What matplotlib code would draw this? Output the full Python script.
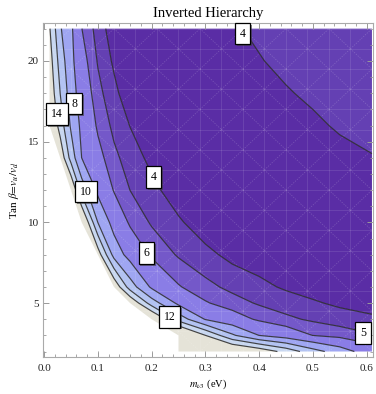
import matplotlib
matplotlib.use('Agg')
import matplotlib.pyplot as plt
import numpy as np
from matplotlib import patheffects
from matplotlib.collections import LineCollection

plt.rcParams['font.family'] = ['Liberation Serif', 'DejaVu Serif']
plt.rcParams['mathtext.fontset'] = 'stix'

nan = np.nan

# grid
m_nu3 = [0.01, 0.03, 0.05, 0.07, 0.1, 0.13, 0.16, 0.2, 0.25, 0.3, 0.35, 0.4, 0.45, 0.5, 0.55, 0.61]
tan_beta = [2, 3, 4, 5, 6, 8, 10, 12, 14, 16, 18, 20, 22]

# one row per tan_beta value (bottom to top), nan = no solution
value = [
    [nan, nan, nan, nan, nan, nan, nan, nan, 19.0, 18.0, 17.0, 15.5, 13.3, 10.8, 9.0, 6.8],
    [nan, nan, nan, nan, nan, nan, nan, nan, 18.0, 14.02, 10.3, 7.98, 7.0, 5.98, 5.55, 5.1],
    [nan, nan, nan, nan, nan, nan, nan, 17.0, 11.2, 7.88, 6.71, 5.78, 5.22, 4.83, 4.56, 4.22],
    [nan, nan, nan, nan, nan, nan, 16.0, 11.0, 7.57, 6.12, 5.43, 4.88, 4.51, 4.15, 3.78, 3.5],
    [nan, nan, nan, nan, nan, 15.7, 11.0, 7.68, 6.1, 5.3, 4.73, 4.29, 3.85, 3.5, 3.4, 3.35],
    [nan, nan, nan, nan, 15.1, 9.25, 7.2, 5.8, 4.88, 4.29, 3.7, 3.4, 3.3, 3.3, 3.3, 3.3],
    [nan, nan, nan, 16.75, 9.98, 7.22, 5.8, 4.88, 4.15, 3.41, 3.3, 3.3, 3.3, 3.3, 3.3, 3.35],
    [nan, nan, 16.3, 11.17, 7.54, 5.91, 4.99, 4.3, 3.42, 3.3, 3.3, 3.3, 3.3, 3.3, 3.4, 3.5],
    [nan, 15.6, 11.2, 7.98, 6.46, 5.25, 4.53, 3.71, 3.4, 3.3, 3.3, 3.3, 3.4, 3.55, 3.75, 3.97],
    [16.7, 13.1, 9.71, 7.52, 5.8, 4.74, 3.97, 3.4, 3.3, 3.3, 3.3, 3.35, 3.5, 3.85, 4.1, 4.2],
    [15.6, 11.98, 8.93, 7.04, 5.33, 4.29, 3.32, 3.3, 3.3, 3.3, 3.35, 3.6, 3.93, 4.15, 4.22, 4.3],
    [15.0, 11.1, 8.53, 6.57, 4.91, 3.82, 3.4, 3.3, 3.3, 3.3, 3.5, 3.95, 4.2, 4.25, 4.3, 4.35],
    [14.2, 10.2, 8.35, 6.02, 4.57, 3.4, 3.3, 3.3, 3.3, 3.4, 3.9, 4.15, 4.25, 4.3, 4.35, 4.4],
]

levels = [3, 4, 5, 6, 8, 10, 12, 14, 20]
band_colors = ['#5a2da5', '#6440b3', '#7458c9', '#8a7de6', '#9fa6f2',
               '#b3c3f2', '#c8d7f0', '#e5e3d8']
line_levels = [4, 5, 6, 8, 10, 12, 14]

label_text = ['4', '4', '5', '6', '8', '10', '12', '14']
label_x = [0.369, 0.204, 0.593, 0.19, 0.056, 0.078, 0.234, 0.024]
label_y = [21.7, 12.8, 3.15, 8.1, 17.35, 11.9, 4.14, 16.7]

X, Y = np.meshgrid(m_nu3, tan_beta)
Z = np.ma.masked_invalid(np.array(value))

fig = plt.figure(figsize=(3.76, 3.94), dpi=100)
ax = fig.add_axes([0.1144, 0.0939, 0.8777, 0.8477])

ax.contourf(X, Y, Z, levels=levels, colors=band_colors, antialiased=True)

# faint mesh seams like in the original rendering
xs = np.linspace(m_nu3[0], m_nu3[-1], 16)
ys = np.linspace(tan_beta[0], tan_beta[-1], 17)
segs = [[(x, ys[0]), (x, ys[-1])] for x in xs] + [[(xs[0], y), (xs[-1], y)] for y in ys]
ax.add_collection(LineCollection(segs, colors='white', linewidths=0.6, alpha=0.12, zorder=2))
diag = []
for i in range(len(xs) - 1):
    for j in range(len(ys) - 1):
        if (i + j) % 2 == 0:
            diag.append([(xs[i], ys[j + 1]), (xs[i + 1], ys[j])])
        else:
            diag.append([(xs[i], ys[j]), (xs[i + 1], ys[j + 1])])
ax.add_collection(LineCollection(diag, colors='white', linewidths=0.6, alpha=0.18,
                                 linestyles=(0, (1.5, 1.5)), zorder=2))

ax.contour(X, Y, Z, levels=line_levels, colors='#262626', linewidths=0.85, alpha=0.85, zorder=3)

for t, x, y in zip(label_text, label_x, label_y):
    txt = ax.text(x, y, t, ha='center', va='center', fontsize=8.5, color='black', zorder=5,
                  bbox=dict(boxstyle='square,pad=0.4', fc='white', ec='black', lw=0.9))
    txt.get_bbox_patch().set_path_effects(
        [patheffects.withSimplePatchShadow(offset=(1.3, -1.3), shadow_rgbFace='0.25', alpha=0.6)])

ax.set_xlim(-0.002, 0.612)
ax.set_ylim(1.66, 22.35)
ax.set_xticks([0.0, 0.1, 0.2, 0.3, 0.4, 0.5, 0.6])
ax.set_xticklabels(['0.0', '0.1', '0.2', '0.3', '0.4', '0.5', '0.6'])
ax.set_xticks(np.arange(0, 0.61, 0.02), minor=True)
ax.set_yticks([5, 10, 15, 20])
ax.set_yticks(np.arange(2, 23, 1), minor=True)
ax.tick_params(which='both', direction='in', top=True, right=True, color='#999999',
               labelsize=8, labelcolor='#222222')
ax.tick_params(which='major', length=4, width=0.7)
ax.tick_params(which='minor', length=2.2, width=0.6)
ax.tick_params(axis='x', pad=5)
ax.tick_params(axis='y', pad=3)
for s in ax.spines.values():
    s.set_color('#aaaaaa')
    s.set_linewidth(0.8)

ax.set_title('Inverted Hierarchy', fontsize=10.5, pad=4)
ax.set_xlabel(r'$m_{\nu 3}$ (eV)', fontsize=7.5, labelpad=3)
ax.set_ylabel(r'Tan $\beta\!=\!v_u/v_d$', fontsize=8, labelpad=5)

fig.savefig('out.png', dpi=100)
